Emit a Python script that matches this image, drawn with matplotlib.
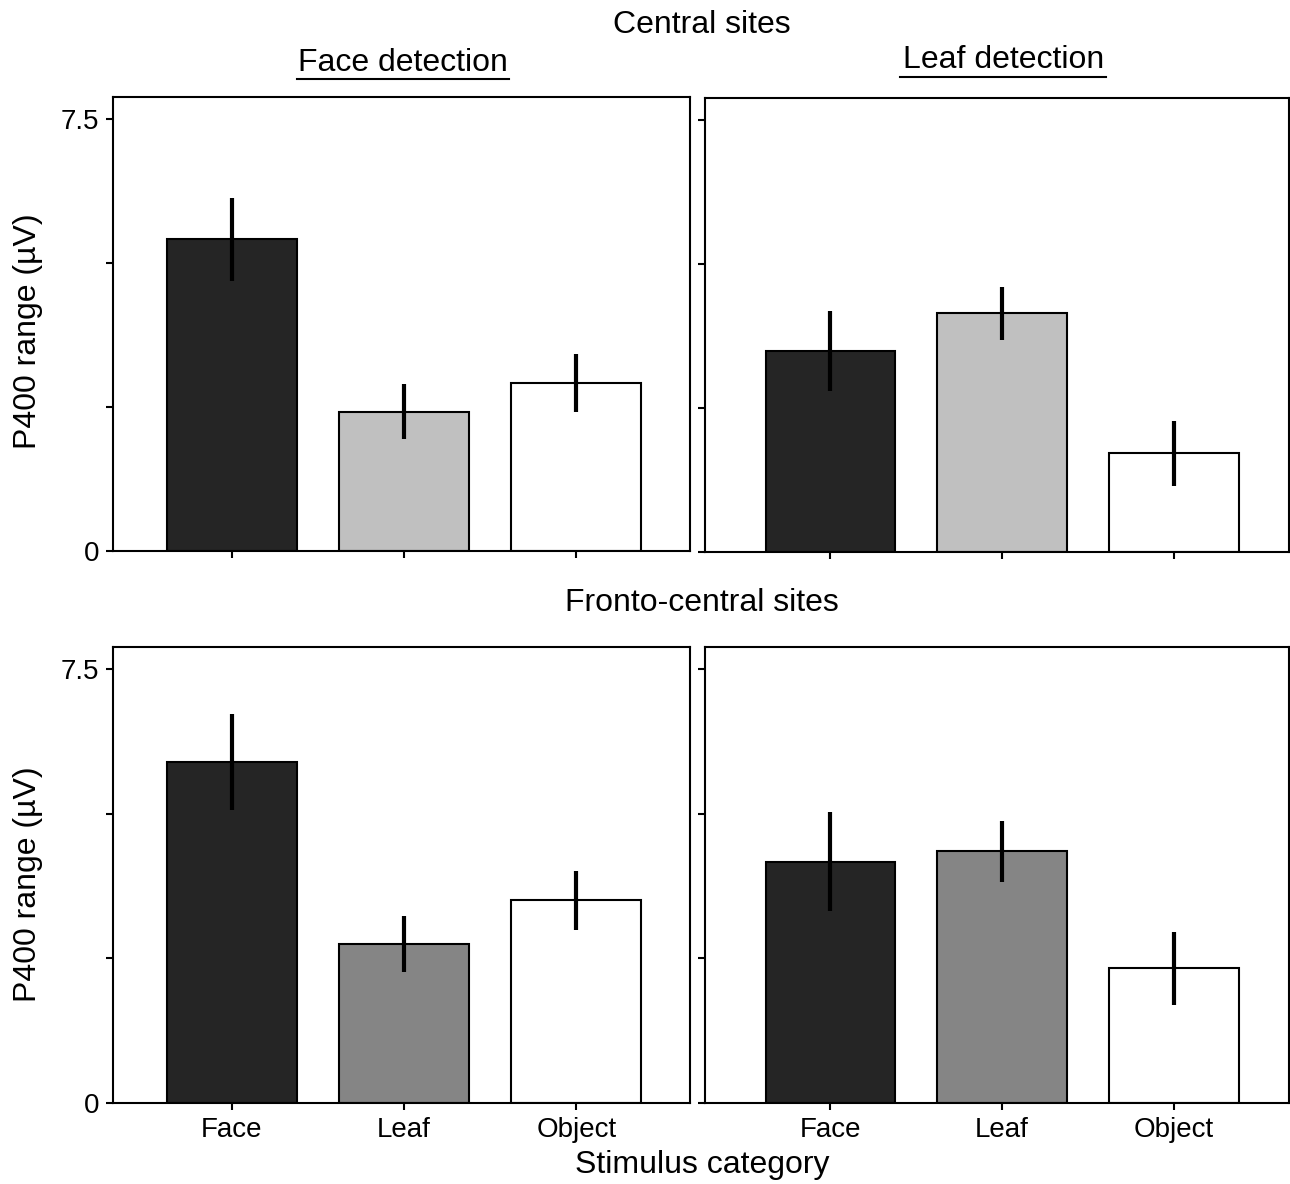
import numpy as np
import matplotlib.pyplot as plt
from matplotlib.lines import Line2D

plt.rcParams['font.family'] = ['Liberation Sans', 'DejaVu Sans']

# Stimulus categories
categorias = ['Face', 'Leaf', 'Object']

# P400 range (uV), central sites
central_face = [5.41, 2.42, 2.92]
central_face_err = [0.72, 0.48, 0.50]
central_leaf = [3.49, 4.14, 1.71]
central_leaf_err = [0.70, 0.46, 0.57]

# P400 range (uV), fronto-central sites
fronto_face = [5.90, 2.75, 3.50]
fronto_face_err = [0.83, 0.48, 0.51]
fronto_leaf = [4.17, 4.35, 2.33]
fronto_leaf_err = [0.86, 0.53, 0.63]

colores_arriba = ['#252525', '#c0c0c0', '#ffffff']
colores_abajo = ['#252525', '#858585', '#ffffff']

fig = plt.figure(figsize=(12.9, 11.84), dpi=100)

# [left, bottom, width, height] de cada panel
posiciones = [
    [0.0876, 0.5346, 0.4473, 0.3834],
    [0.5465, 0.5338, 0.4527, 0.3834],
    [0.0876, 0.0684, 0.4473, 0.3851],
    [0.5465, 0.0684, 0.4527, 0.3851],
]
datos = [
    (central_face, central_face_err, colores_arriba),
    (central_leaf, central_leaf_err, colores_arriba),
    (fronto_face, fronto_face_err, colores_abajo),
    (fronto_leaf, fronto_leaf_err, colores_abajo),
]

x = np.arange(len(categorias))
for k, (pos, (valores, errores, colores)) in enumerate(zip(posiciones, datos)):
    ax = fig.add_axes(pos)
    ax.bar(x, valores, width=0.755, color=colores, edgecolor='black', linewidth=1.5, zorder=2)
    ax.errorbar(x, valores, yerr=errores, fmt='none', ecolor='black',
                elinewidth=3.0, capsize=0, zorder=3)
    ax.set_ylim(0, 7.88)
    if k % 2 == 0:
        ax.set_xlim(-0.69, 2.66)
    else:
        ax.set_xlim(-0.73, 2.67)
    ax.set_yticks([0, 2.5, 5, 7.5])
    if k % 2 == 0:
        ax.set_yticklabels(['0', '', '', '7.5'])
    else:
        ax.set_yticklabels([])
    ax.set_xticks(x)
    if k >= 2:
        ax.set_xticklabels(categorias)
    else:
        ax.set_xticklabels([])
    ax.tick_params(direction='out', length=5, width=1.5, labelsize=20, pad=5)
    for s in ax.spines.values():
        s.set_linewidth(1.5)

# Titulos y etiquetas
fig.text(0.544, 0.979, 'Central sites', ha='center', va='center', fontsize=23)
fig.text(0.312, 0.947, 'Face detection', ha='center', va='center', fontsize=23)
fig.text(0.778, 0.949, 'Leaf detection', ha='center', va='center', fontsize=23)
fig.add_artist(Line2D([297/1290, 509/1290], [1-79/1184, 1-79/1184], color='black', lw=1.5))
fig.add_artist(Line2D([900/1290, 1106/1290], [1-77/1184, 1-77/1184], color='black', lw=1.5))
fig.text(0.544, 0.491, 'Fronto-central sites', ha='center', va='center', fontsize=23)
fig.text(0.544, 0.016, 'Stimulus category', ha='center', va='center', fontsize=23)
fig.text(0.022, 0.720, 'P400 range (µV)', ha='center', va='center', rotation=90, fontsize=23)
fig.text(0.022, 0.253, 'P400 range (µV)', ha='center', va='center', rotation=90, fontsize=23)

plt.savefig('out.png', dpi=100)
